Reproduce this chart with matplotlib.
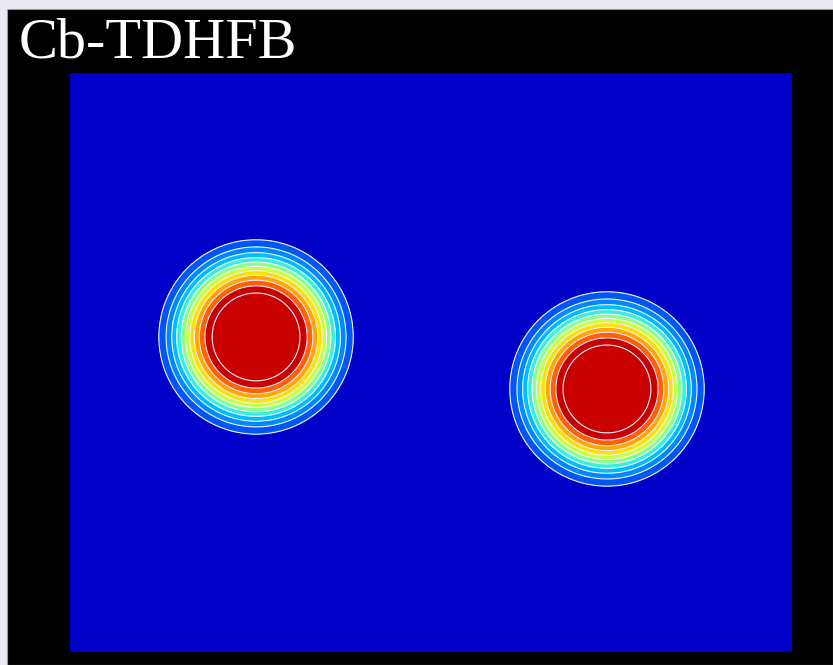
#!/usr/bin/env python3
"""Two-nucleus density snapshot (Cb-TDHFB) drawn as filled contours."""

from __future__ import annotations

import matplotlib

matplotlib.use("Agg")
import matplotlib.pyplot as plt
import numpy as np
from matplotlib.patches import Rectangle

# box and grid (fm)
X_RANGE = (-24.0, 24.0)
Y_RANGE = (-19.25, 19.25)
GRID_STEP = 0.2

# two fragments: centre x, centre y, half-density radius, diffuseness
BLOB_X = [-11.63, 11.70]
BLOB_Y = [1.70, -1.76]
BLOB_R = [4.69, 4.69]
BLOB_A = [1.02, 1.02]

# contour levels (fraction of central density) and band colours, outside in
LEVELS = [0.15, 0.22, 0.29, 0.36, 0.43, 0.50, 0.57, 0.64, 0.71, 0.78, 0.85]
BAND_COLORS = [
    "#0000c8",
    "#0055f5",
    "#0088ff",
    "#00bbff",
    "#38eee0",
    "#88ff90",
    "#c8ff40",
    "#f8e400",
    "#ffa800",
    "#ff6000",
    "#c80000",
    "#c80000",
]

TITLE = "Cb-TDHFB"


def density(xx: np.ndarray, yy: np.ndarray) -> np.ndarray:
    rho = np.zeros_like(xx)
    for cx, cy, r0, a in zip(BLOB_X, BLOB_Y, BLOB_R, BLOB_A):
        r = np.hypot(xx - cx, yy - cy)
        rho += 1.0 / (1.0 + np.exp((r - r0) / a))
    return rho


def main() -> None:
    fig = plt.figure(figsize=(8.33, 6.65), dpi=100)
    fig.patch.set_facecolor("#e9e9f1")
    fig.add_artist(
        Rectangle((7 / 833, 0), 1 - 7 / 833, 1 - 9 / 665, transform=fig.transFigure,
                  facecolor="black", edgecolor="#9a9aa0", linewidth=0.8, zorder=0)
    )

    ax = fig.add_axes([70 / 833, 13 / 665, 722 / 833, 579 / 665])
    xs = np.arange(X_RANGE[0], X_RANGE[1] + GRID_STEP, GRID_STEP)
    ys = np.arange(Y_RANGE[0], Y_RANGE[1] + GRID_STEP, GRID_STEP)
    xx, yy = np.meshgrid(xs, ys)
    rho = density(xx, yy)

    bounds = [-1.0] + LEVELS + [2.0]
    ax.contourf(xx, yy, rho, levels=bounds, colors=BAND_COLORS)
    ax.contour(xx, yy, rho, levels=LEVELS, colors="#f4f0ff", linewidths=0.8)
    ax.set_xlim(*X_RANGE)
    ax.set_ylim(*Y_RANGE)
    ax.set_axis_off()

    fig.text(19 / 833, 1 - 57 / 665, TITLE, color="white", fontsize=42,
             family="Liberation Serif", ha="left", va="baseline")

    fig.savefig("out.png", dpi=100, facecolor=fig.get_facecolor())
    plt.close(fig)


if __name__ == "__main__":
    main()
